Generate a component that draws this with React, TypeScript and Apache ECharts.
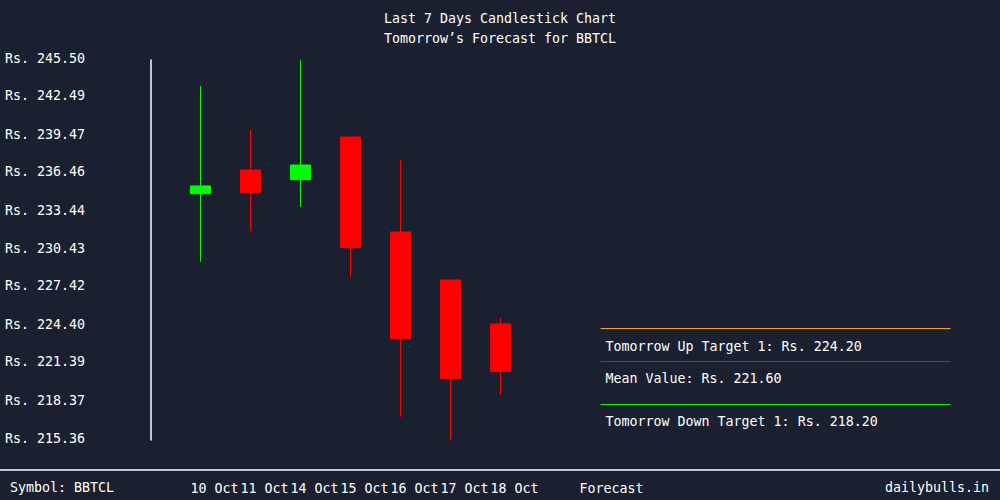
import React, { useEffect, useRef } from "react";
import * as echarts from "echarts";

const categories = ["", "10 Oct", "11 Oct", "14 Oct", "15 Oct", "16 Oct", "17 Oct", "18 Oct", "", "Forecast", "", "", "", "", "", "", ""];
const candleDates = ["10 Oct", "11 Oct", "14 Oct", "15 Oct", "16 Oct", "17 Oct", "18 Oct"];
const openVals = [234.89, 236.78, 236.01, 239.39, 231.86, 228.05, 224.56];
const closeVals = [235.51, 234.97, 237.17, 230.61, 223.39, 220.22, 220.78];
const lowVals = [229.5, 231.94, 233.86, 228.31, 217.21, 215.36, 218.95];
const highVals = [243.44, 239.95, 245.5, 239.39, 237.57, 228.05, 225.04];
const yTicks = [215.36, 218.37, 221.39, 224.4, 227.42, 230.43, 233.44, 236.46, 239.47, 242.49, 245.5];
const upTarget = 224.2;
const meanValue = 221.6;
const downTarget = 218.2;
const symbol = "BBTCL";

const FONT = "DejaVu Sans Mono";
const FS = 13.3;
const BG = "#1b2030";

export default function App() {
  const ref = useRef<HTMLDivElement>(null);
  useEffect(() => {
    if (!ref.current) return;
    const chart = echarts.init(ref.current, null, { renderer: "svg" });
    const data = categories.map((c) => {
      const i = candleDates.indexOf(c);
      if (i < 0) return "-";
      return [openVals[i], closeVals[i], lowVals[i], highVals[i]];
    });
    const lastIdx = categories.length - 1;
    const fIdx = categories.indexOf("Forecast");
    const ml = (v: number, color: string, text: string) => [
      {
        coord: [fIdx, v],
        lineStyle: { color, width: 1, type: "solid" },
        label: {
          show: true,
          formatter: text,
          position: "insideStartBottom",
          distance: [5, 11],
          color: "#ffffff",
          fontFamily: FONT,
          fontSize: FS,
        },
      },
      { coord: [lastIdx, v] },
    ];
    chart.setOption({
      animation: false,
      backgroundColor: BG,
      textStyle: { fontFamily: FONT },
      title: {
        text: "Last 7 Days Candlestick Chart\nTomorrow’s Forecast for " + symbol,
        left: "center",
        top: 3,
        textStyle: { color: "#ffffff", fontSize: FS, lineHeight: 20, fontWeight: "normal", fontFamily: FONT },
      },
      grid: { left: 150.5, right: 49.5, top: 60, bottom: 60 },
      xAxis: {
        type: "category",
        data: categories,
        boundaryGap: false,
        axisLine: { show: false },
        axisTick: { show: false },
        splitLine: { show: false },
        axisLabel: {
          interval: 0,
          margin: 42,
          color: "#ffffff",
          fontFamily: FONT,
          fontSize: FS,
          formatter: (v: string) => (v === "" ? "" : v === "Forecast" ? "{f|" + v + "}" : "{d|" + v + "}"),
          rich: {
            d: { padding: [0, 0, 0, 28], color: "#ffffff", fontFamily: FONT, fontSize: FS },
            f: { padding: [0, 0, 0, 22], color: "#ffffff", fontFamily: FONT, fontSize: FS },
          },
        },
      },
      yAxis: {
        type: "value",
        min: yTicks[0],
        max: yTicks[yTicks.length - 1],
        axisLine: { show: true, lineStyle: { color: "#ffffff", width: 1.5 } },
        axisTick: { show: false },
        splitLine: { show: false },
        axisLabel: {
          customValues: yTicks,
          align: "left",
          margin: 145.5,
          color: "#ffffff",
          fontFamily: FONT,
          fontSize: FS,
          formatter: (v: number) => "{a|Rs. " + v.toFixed(2) + "}",
          rich: {
            a: { padding: [0, 0, 4, 0], color: "#ffffff", fontFamily: FONT, fontSize: FS },
          },
        },
      },
      series: [
        {
          type: "candlestick",
          data,
          barWidth: 21,
          itemStyle: {
            color: "#00ff00",
            color0: "#ff0000",
            borderColor: "#00ff00",
            borderColor0: "#ff0000",
            borderWidth: 1,
          },
          markLine: {
            symbol: ["none", "none"],
            silent: true,
            data: [
              ml(upTarget, "#ffa500", "Tomorrow Up Target 1: Rs. " + upTarget.toFixed(2)),
              ml(meanValue, "#d01818", "Mean Value: Rs. " + meanValue.toFixed(2)),
              ml(downTarget, "#00ff00", "Tomorrow Down Target 1: Rs. " + downTarget.toFixed(2)),
            ],
          },
        },
      ],
      graphic: [
        { type: "line", shape: { x1: 0, y1: 470, x2: 1000, y2: 470 }, style: { stroke: "#ffffff", lineWidth: 1.5 } },
        { type: "text", left: 10, top: 481, style: { text: "Symbol: " + symbol, fill: "#ffffff", font: FS + "px " + FONT } },
        { type: "text", right: 11, top: 481, style: { text: "dailybulls.in", fill: "#ffffff", font: FS + "px " + FONT } },
      ],
    });
    return () => chart.dispose();
  }, []);
  return <div ref={ref} style={{ position: "fixed", left: 0, top: 0, width: 1000, height: 500 }} />;
}
